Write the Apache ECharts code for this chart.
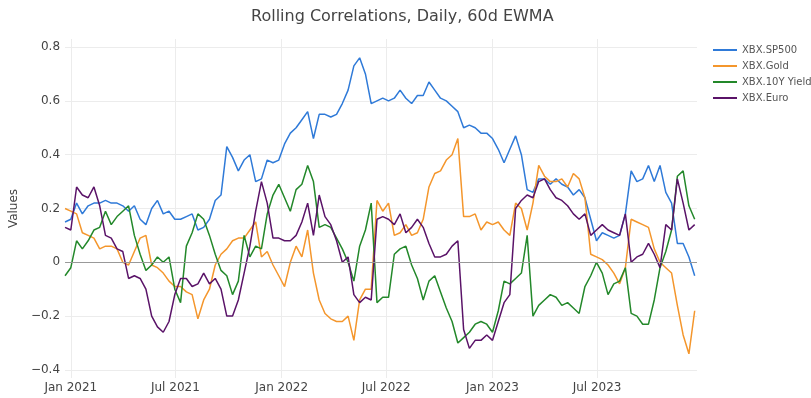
<!DOCTYPE html>
<html>
<head>
<meta charset="utf-8">
<script src="https://cdn.jsdelivr.net/npm/echarts@6/dist/echarts.min.js"></script>
<style>
  html, body { margin: 0; padding: 0; background: #fff; }
  #chart { width: 811px; height: 398px; }
</style>
</head>
<body>
<div id="chart"></div>
<script>
// readings taken every 10 days, starting 2020-12-22
const startDate = '2020-12-22';
const stepDays = 10;
const endDate = '2023-12-21';

const seriesNames = ['XBX.SP500', 'XBX.Gold', 'XBX.10Y Yield', 'XBX.Euro'];
const seriesColors = ['#2f7ad8', '#f4962c', '#23882a', '#5a1368'];

const sp500 = [
  0.15, 0.16, 0.22, 0.18, 0.21, 0.22, 0.22, 0.23, 0.22, 0.22,
  0.21, 0.19, 0.21, 0.16, 0.14, 0.20, 0.23, 0.18, 0.19, 0.16,
  0.16, 0.17, 0.18, 0.12, 0.13, 0.16, 0.23, 0.25, 0.43, 0.39,
  0.34, 0.38, 0.40, 0.30, 0.31, 0.38, 0.37, 0.38, 0.44, 0.48,
  0.50, 0.53, 0.56, 0.46, 0.55, 0.55, 0.54, 0.55, 0.59, 0.64,
  0.73, 0.76, 0.70, 0.59, 0.60, 0.61, 0.60, 0.61, 0.64, 0.61,
  0.59, 0.62, 0.62, 0.67, 0.64, 0.61, 0.60, 0.58, 0.56, 0.50,
  0.51, 0.50, 0.48, 0.48, 0.46, 0.42, 0.37, 0.42, 0.47, 0.40,
  0.27, 0.26, 0.31, 0.31, 0.29, 0.31, 0.29, 0.28, 0.25, 0.27,
  0.24, 0.16, 0.08, 0.11, 0.10, 0.09, 0.10, 0.18, 0.34, 0.30,
  0.31, 0.36, 0.30, 0.36, 0.26, 0.22, 0.07, 0.07, 0.02, -0.05
];
const gold = [
  0.20, 0.19, 0.18, 0.11, 0.10, 0.09, 0.05, 0.06, 0.06, 0.05,
  0.00, -0.01, 0.04, 0.09, 0.10, -0.01, -0.02, -0.04, -0.07, -0.09,
  -0.09, -0.11, -0.12, -0.21, -0.14, -0.10, -0.01, 0.03, 0.05, 0.08,
  0.09, 0.09, 0.12, 0.15, 0.02, 0.04, -0.01, -0.05, -0.09, 0.00,
  0.06, 0.02, 0.12, -0.04, -0.14, -0.19, -0.21, -0.22, -0.22, -0.20,
  -0.29, -0.14, -0.10, -0.10, 0.23, 0.19, 0.22, 0.10, 0.11, 0.14,
  0.10, 0.11, 0.16, 0.28, 0.33, 0.34, 0.38, 0.40, 0.46, 0.17,
  0.17, 0.18, 0.12, 0.15, 0.14, 0.15, 0.12, 0.10, 0.22, 0.20,
  0.12, 0.22, 0.36, 0.32, 0.30, 0.30, 0.31, 0.28, 0.33, 0.31,
  0.24, 0.03, 0.02, 0.01, -0.01, -0.04, -0.08, -0.02, 0.16, 0.15,
  0.14, 0.13, 0.05, 0.00, -0.02, -0.04, -0.16, -0.27, -0.34, -0.18
];
const yield10y = [
  -0.05, -0.02, 0.08, 0.05, 0.08, 0.12, 0.13, 0.19, 0.14, 0.17,
  0.19, 0.21, 0.10, 0.03, -0.03, -0.01, 0.02, 0.00, 0.02, -0.10,
  -0.15, 0.06, 0.11, 0.18, 0.16, 0.10, 0.03, -0.03, -0.05, -0.12,
  -0.07, 0.10, 0.02, 0.06, 0.05, 0.18, 0.25, 0.29, 0.24, 0.19,
  0.27, 0.29, 0.36, 0.30, 0.13, 0.14, 0.13, 0.09, 0.05, 0.00,
  -0.07, 0.06, 0.12, 0.22, -0.15, -0.13, -0.13, 0.03, 0.05, 0.06,
  -0.01, -0.06, -0.14, -0.07, -0.05, -0.11, -0.17, -0.22, -0.30, -0.28,
  -0.26, -0.23, -0.22, -0.23, -0.26, -0.18, -0.07, -0.08, -0.06, -0.04,
  0.10, -0.20, -0.16, -0.14, -0.12, -0.13, -0.16, -0.15, -0.17, -0.19,
  -0.09, -0.05, 0.00, -0.04, -0.12, -0.08, -0.07, -0.02, -0.19, -0.20,
  -0.23, -0.23, -0.14, -0.02, 0.04, 0.12, 0.32, 0.34, 0.21, 0.16
];
const euro = [
  0.13, 0.12, 0.28, 0.25, 0.24, 0.28, 0.21, 0.10, 0.09, 0.05,
  0.04, -0.06, -0.05, -0.06, -0.10, -0.20, -0.24, -0.26, -0.22, -0.12,
  -0.06, -0.06, -0.09, -0.08, -0.04, -0.08, -0.06, -0.10, -0.20, -0.20,
  -0.14, -0.04, 0.06, 0.19, 0.30, 0.22, 0.09, 0.09, 0.08, 0.08,
  0.10, 0.15, 0.22, 0.10, 0.25, 0.17, 0.14, 0.08, 0.00, 0.02,
  -0.12, -0.15, -0.13, -0.14, 0.16, 0.17, 0.16, 0.14, 0.18, 0.11,
  0.13, 0.16, 0.13, 0.07, 0.02, 0.02, 0.03, 0.06, 0.08, -0.25,
  -0.32, -0.29, -0.29, -0.27, -0.29, -0.22, -0.15, -0.12, 0.20, 0.23,
  0.25, 0.24, 0.30, 0.31, 0.27, 0.24, 0.23, 0.21, 0.18, 0.16,
  0.18, 0.10, 0.12, 0.14, 0.12, 0.11, 0.10, 0.18, 0.00, 0.02,
  0.03, 0.07, 0.03, -0.02, 0.14, 0.12, 0.31, 0.22, 0.12, 0.14
];

const xTickDates = ['2021-01-01', '2021-07-01', '2022-01-01', '2022-07-01', '2023-01-01', '2023-07-01'];
const xTickLabels = ['Jan 2021', 'Jul 2021', 'Jan 2022', 'Jul 2022', 'Jan 2023', 'Jul 2023'];
const yTicks = [-0.4, -0.2, 0, 0.2, 0.4, 0.6, 0.8];

const DAY = 86400000;
const t0 = Date.parse(startDate);
const withDates = vals => vals.map((v, i) => [t0 + i * stepDays * DAY, v]);
const xTickValues = xTickDates.map(d => Date.parse(d));

const font = 'DejaVu Sans';
const chart = echarts.init(document.getElementById('chart'));

const lines = [sp500, gold, yield10y, euro].map((vals, k) => ({
  name: seriesNames[k],
  type: 'line',
  data: withDates(vals),
  symbol: 'none',
  z: 3,
  lineStyle: { width: 1.5, color: seriesColors[k] },
  itemStyle: { color: seriesColors[k] }
}));

chart.setOption({
  animation: false,
  backgroundColor: '#fff',
  textStyle: { fontFamily: font },
  title: {
    text: 'Rolling Correlations, Daily, 60d EWMA',
    left: 246,
    top: 4,
    textStyle: { fontSize: 16, fontWeight: 'normal', color: '#444', fontFamily: font }
  },
  legend: {
    data: seriesNames,
    orient: 'vertical',
    left: 708,
    top: 40,
    icon: 'rect',
    itemWidth: 24,
    itemHeight: 2,
    itemGap: 6,
    textStyle: { fontSize: 10, color: '#555', fontFamily: font }
  },
  grid: { left: 55, right: 114, top: 39, bottom: 20 },
  xAxis: {
    type: 'value',
    min: t0,
    max: Date.parse(endDate),
    axisLine: { show: false },
    axisTick: { show: false, customValues: xTickValues },
    splitLine: { show: true, lineStyle: { color: '#ececec', width: 1 } },
    axisLabel: {
      customValues: xTickValues,
      margin: 4,
      fontSize: 12,
      color: '#444',
      formatter: v => xTickLabels[xTickValues.indexOf(v)]
    }
  },
  yAxis: {
    type: 'value',
    min: -0.43,
    max: 0.83,
    name: 'Values',
    nameLocation: 'middle',
    nameGap: 33,
    nameTextStyle: { fontSize: 12, color: '#444' },
    axisLine: { show: false },
    axisTick: { show: false, customValues: yTicks },
    splitLine: { show: true, lineStyle: { color: '#ececec', width: 1 } },
    axisLabel: {
      customValues: yTicks,
      margin: 5,
      fontSize: 12,
      color: '#444',
      formatter: v => (v < 0 ? '\u2212' + Math.abs(v) : String(v))
    }
  },
  series: [
    {
      name: 'zero',
      type: 'line',
      data: [],
      z: 1,
      markLine: {
        silent: true,
        symbol: 'none',
        label: { show: false },
        lineStyle: { color: '#999', type: 'solid', width: 1 },
        data: [{ yAxis: 0 }]
      }
    }
  ].concat(lines)
});
</script>
</body>
</html>
